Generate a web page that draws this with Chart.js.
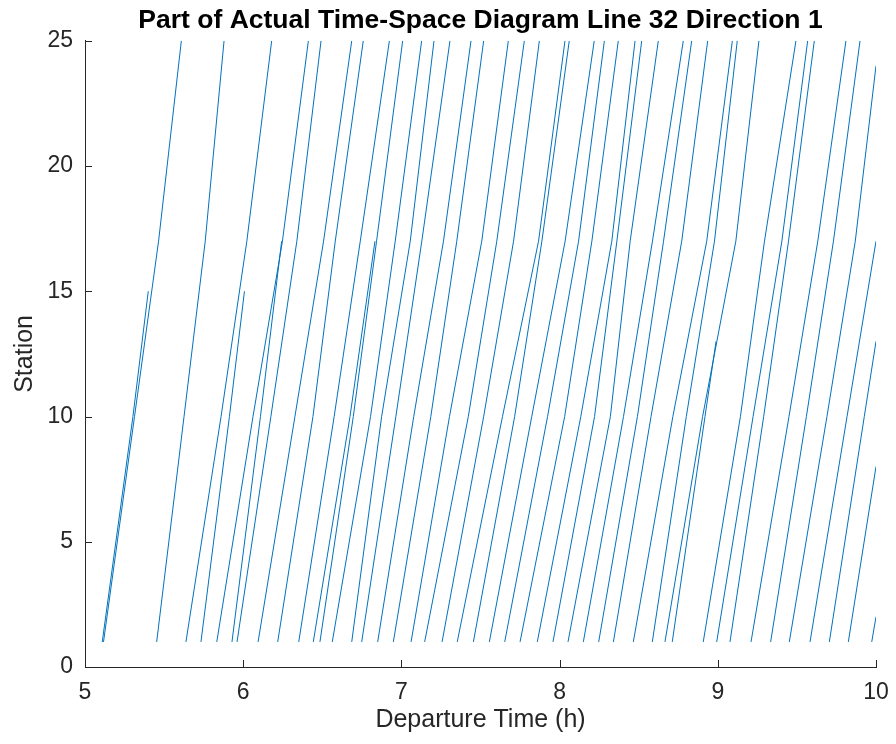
<!DOCTYPE html>
<html lang="en">
  <head>
    <meta charset="UTF-8" />
    <script src="https://cdn.jsdelivr.net/npm/chart.js"></script>
    <title>Time-Space Diagram Line 32</title>
    <style>
      body { margin: 0; background: #fff; }
    </style>
  </head>
  <body>
    <canvas id="diagrama" width="896" height="744"></canvas>

    <script>
      // one entry per trip, times in hours
      const tripTimeAtStation1 = [
        5.109, 5.117, 5.453, 5.638, 5.733, 5.833, 5.929, 5.961, 6.094, 6.218,
        6.351, 6.443, 6.485, 6.563, 6.686, 6.749, 6.850, 6.949, 7.061, 7.147,
        7.257, 7.353, 7.455, 7.556, 7.653, 7.750, 7.859, 7.958, 8.053, 8.150,
        8.247, 8.340, 8.466, 8.586, 8.666, 8.712, 8.908, 8.993, 9.077, 9.210,
        9.334, 9.452, 9.583, 9.705, 9.825, 9.973
      ];
      const tripTimeAtStation10 = [
        5.303, 5.313, 5.626, 5.860, 5.913, 6.062, 6.109, 6.175, 6.327, 6.441,
        6.575, 6.675, 6.696, 6.805, 6.875, 6.965, 7.078, 7.186, 7.304, 7.423,
        7.520, 7.639, 7.716, 7.824, 7.924, 8.032, 8.134, 8.221, 8.321, 8.404,
        8.492, 8.578, 8.716, 8.801, 8.904, 8.919, 9.143, 9.223, 9.290, 9.450,
        9.560, 9.690, 9.817, 9.926, null, null
      ];
      const tripTimeAtStation17 = [
        null, 5.465, 5.760, 6.023, null, 6.248, null, 6.339, 6.508, 6.582,
        6.740, null, 6.843, 6.961, 7.056, 7.129, 7.266, 7.350, 7.508, 7.603,
        7.709, 7.867, 7.888, 8.035, 8.120, 8.204, 8.330, 8.362, 8.446, 8.587,
        8.657, 8.772, 8.930, 8.979, 9.114, null, 9.295, 9.405, 9.447, 9.632,
        9.731, 9.869, null, null, null, null
      ];
      const tripLastTime = [
        5.400, 5.609, 5.879, 6.180, 6.008, 6.412, 6.243, 6.492, 6.686, 6.759,
        6.924, 6.833, 7.008, 7.128, 7.206, 7.307, 7.440, 7.520, 7.676, 7.777,
        7.872, 8.034, 8.061, 8.219, 8.283, 8.371, 8.477, 8.519, 8.624, 8.782,
        8.835, 8.936, 9.092, 9.123, 9.260, 8.989, 9.494, 9.568, 9.610, 9.810,
        9.899, 10.0, 10.0, 10.0, 10.0, 10.0
      ];
      const tripLastStation = [
        15, 25, 25, 25, 15, 25, 17, 25, 25, 25,
        25, 17, 25, 25, 25, 25, 25, 25, 25, 25,
        25, 25, 25, 25, 25, 25, 25, 25, 25, 25,
        25, 25, 25, 25, 25, 13, 25, 25, 25, 25,
        25, 24, 17, 13, 8, 2
      ];
      const xTicks = [5, 6, 7, 8, 9, 10];
      const yTicks = [0, 5, 10, 15, 20, 25];

      const fonte = "'Liberation Sans', Arial, Helvetica, sans-serif";
      const corEixo = "#262626";

      // montando uma linha por viagem
      const datasets = tripTimeAtStation1.map(function (t1, i) {
        const pontos = [{ x: t1, y: 1 }];
        if (tripTimeAtStation10[i] !== null) pontos.push({ x: tripTimeAtStation10[i], y: 10 });
        if (tripTimeAtStation17[i] !== null) pontos.push({ x: tripTimeAtStation17[i], y: 17 });
        pontos.push({ x: tripLastTime[i], y: tripLastStation[i] });
        return {
          data: pontos,
          borderColor: "#0072BD",
          borderWidth: 1,
          pointRadius: 0,
          fill: false,
          tension: 0,
        };
      });

      // ticks pointing inward, like matlab
      const ticksInternos = {
        id: "ticksInternos",
        afterDatasetsDraw(chart) {
          const { ctx, chartArea, scales } = chart;
          ctx.save();
          ctx.strokeStyle = corEixo;
          ctx.lineWidth = 1;
          ctx.beginPath();
          xTicks.forEach(function (v) {
            const px = Math.round(scales.x.getPixelForValue(v)) + 0.5;
            ctx.moveTo(px, chartArea.bottom);
            ctx.lineTo(px, chartArea.bottom - 7);
          });
          yTicks.forEach(function (v) {
            const py = Math.round(scales.y.getPixelForValue(v)) + 0.5;
            ctx.moveTo(chartArea.left, py);
            ctx.lineTo(chartArea.left + 7, py);
          });
          ctx.stroke();
          ctx.restore();
        },
      };

      new Chart(document.getElementById("diagrama"), {
        type: "line",
        data: { datasets: datasets },
        plugins: [ticksInternos],
        options: {
          responsive: false,
          animation: false,
          devicePixelRatio: 1,
          layout: { padding: { top: 0, right: 20, bottom: 0, left: 0 } },
          plugins: {
            legend: { display: false },
            tooltip: { enabled: false },
            title: {
              display: true,
              fullSize: false,
              text: "Part of Actual Time-Space Diagram Line 32 Direction 1",
              color: "#000",
              font: { family: fonte, size: 26.5, weight: "bold", lineHeight: 1.2 },
              padding: { top: 5, bottom: 4 },
            },
          },
          scales: {
            x: {
              type: "linear",
              min: 5,
              max: 10,
              afterBuildTicks: function (s) { s.ticks = xTicks.map(v => ({ value: v })); },
              afterFit: function (s) {
                s.height = 77;
                s.paddingRight = 13;
              },
              grid: { display: false, drawTicks: false },
              border: { display: true, color: corEixo, width: 1 },
              ticks: { color: corEixo, padding: 12, font: { family: fonte, size: 23 } },
              title: {
                display: true,
                text: "Departure Time (h)",
                color: corEixo,
                font: { family: fonte, size: 25, lineHeight: 1.2 },
                padding: { top: 0, bottom: 9 },
              },
            },
            y: {
              type: "linear",
              min: 0,
              max: 25,
              afterBuildTicks: function (s) { s.ticks = yTicks.map(v => ({ value: v })); },
              afterFit: function (s) { s.width = 85; },
              grid: { display: false, drawTicks: false },
              border: { display: true, color: corEixo, width: 1 },
              ticks: { color: corEixo, padding: 12, font: { family: fonte, size: 23 } },
              title: {
                display: true,
                text: "Station",
                color: corEixo,
                font: { family: fonte, size: 25, lineHeight: 1.2 },
                padding: { top: 10, bottom: 0 },
              },
            },
          },
        },
      });
    </script>
  </body>
</html>
